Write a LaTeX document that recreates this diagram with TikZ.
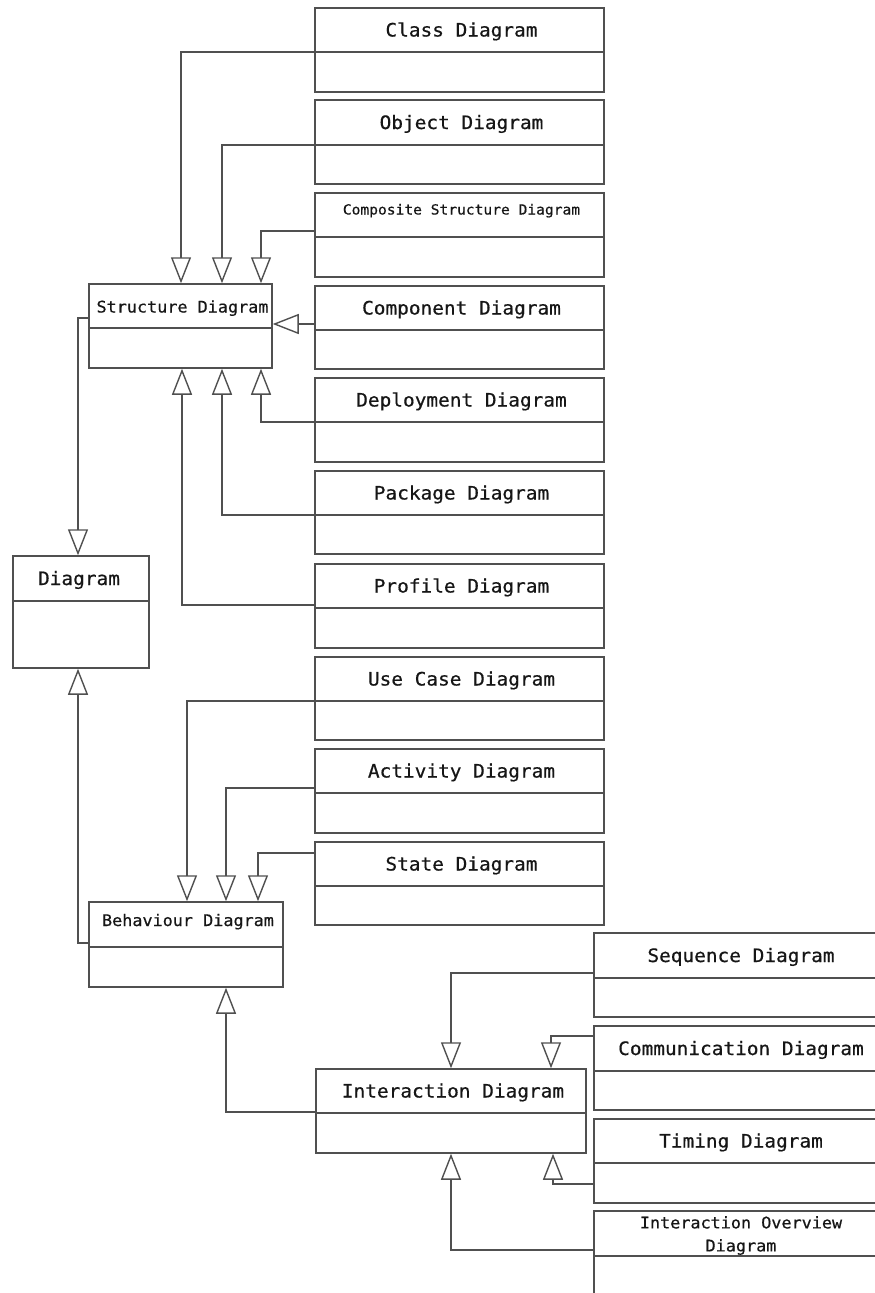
\documentclass[tikz,border=0pt]{standalone}
\usepackage{fontspec}
\newfontfamily\umlfont[FakeStretch=1.05,FakeBold=0.6]{DejaVu Sans Mono}
\usetikzlibrary{arrows.meta,fit}
\definecolor{linegray}{RGB}{80,80,80}
\definecolor{inkgray}{RGB}{22,22,22}

\tikzset{
  umlbox/.style={draw=linegray, line width=1.5pt, inner sep=0pt},
  divider/.style={draw=linegray, line width=1.5pt},
  title/.style={font=\umlfont\fontsize{18.5}{22}\selectfont, text=inkgray,
                anchor=base, inner sep=0pt},
  smalltitle/.style={font=\umlfont\fontsize{16}{19}\selectfont},
  tinytitle/.style={font=\umlfont\fontsize{13.9}{17}\selectfont},
  twolinetitle/.style={font=\umlfont\fontsize{16}{23}\selectfont,
                       align=center, anchor=center},
  gen/.style={draw=linegray, line width=1.4pt,
              -{Triangle[open,width=20pt,length=26pt]}},
}

% [title options]{name}{left}{top}{right}{divider y}{bottom}{title}
\newcommand\umlclass[8][]{%
  \node[umlbox, fit={(#3,#4) (#5,#7)}] (#2) {};
  \draw[divider] (#3,#6) -- (#5,#6);
  \node[title,#1] (#2-title) at ({(#3+#5)/2+2},{(#4+#6)/2+6.5}) {#8};
}

\begin{document}
\begin{tikzpicture}[x=1pt,y=-1pt]
\useasboundingbox (0,0) rectangle (875,1293);
\clip (0,0) rectangle (875,1293);

% structure column
\umlclass{class}{315}{8}{604}{52}{92}{Class Diagram}
\umlclass{object}{315}{100}{604}{145}{184}{Object Diagram}
\umlclass[tinytitle, yshift=7pt]{composite}{315}{193}{604}{237}{277}{Composite Structure Diagram}
\umlclass{component}{315}{286}{604}{330}{369}{Component Diagram}
\umlclass{deployment}{315}{378}{604}{422}{462}{Deployment Diagram}
\umlclass{package}{315}{471}{604}{515}{554}{Package Diagram}
\umlclass{profile}{315}{564}{604}{608}{648}{Profile Diagram}

% behaviour column
\umlclass{usecase}{315}{657}{604}{701}{740}{Use Case Diagram}
\umlclass{activity}{315}{749}{604}{793}{833}{Activity Diagram}
\umlclass{state}{315}{842}{604}{886}{925}{State Diagram}

% abstract diagrams
\umlclass[smalltitle]{struct}{89}{284}{272}{328}{368}{Structure Diagram}
\umlclass[xshift=-4pt]{diagram}{13}{556}{149}{601}{668}{Diagram}
\umlclass[smalltitle, yshift=5pt]{behav}{89}{902}{283}{947}{987}{Behaviour Diagram}
\umlclass{inter}{316}{1069}{586}{1113}{1153}{Interaction Diagram}

% interaction column
\umlclass{sequence}{594}{933}{884}{978}{1017}{Sequence Diagram}
\umlclass{communication}{594}{1026}{884}{1071}{1110}{Communication Diagram}
\umlclass{timing}{594}{1119}{884}{1163}{1203}{Timing Diagram}
\umlclass[twolinetitle, yshift=4.5pt]{overview}{594}{1211}{884}{1256}{1330}{Interaction Overview\\Diagram}

% generalisations into Structure Diagram
\draw[gen] (class.west |- 0,52)   -| (181,0 |- struct.north);
\draw[gen] (object.west |- 0,145) -| (222,0 |- struct.north);
\draw[gen] (composite.west |- 0,231) -| (261,0 |- struct.north);
\draw[gen] (component.west |- 0,324) -- (struct.east |- 0,324);
\draw[gen] (deployment.west |- 0,422) -| (261,0 |- struct.south);
\draw[gen] (package.west |- 0,515) -| (222,0 |- struct.south);
\draw[gen] (profile.west |- 0,605) -| (182,0 |- struct.south);

% generalisations into Diagram
\draw[gen] (struct.west |- 0,318) -| (78,0 |- diagram.north);
\draw[gen] (behav.west |- 0,943)  -| (78,0 |- diagram.south);

% generalisations into Behaviour Diagram
\draw[gen] (usecase.west |- 0,701)  -| (187,0 |- behav.north);
\draw[gen] (activity.west |- 0,788) -| (226,0 |- behav.north);
\draw[gen] (state.west |- 0,853)    -| (258,0 |- behav.north);
\draw[gen] (inter.west |- 0,1112)   -| (226,0 |- behav.south);

% generalisations into Interaction Diagram
\draw[gen] (sequence.west |- 0,973)       -| (451,0 |- inter.north);
\draw[gen] (communication.west |- 0,1036) -| (551,0 |- inter.north);
\draw[gen] (timing.west |- 0,1184)        -| (553,0 |- inter.south);
\draw[gen] (overview.west |- 0,1250)      -| (451,0 |- inter.south);
\end{tikzpicture}
\end{document}
